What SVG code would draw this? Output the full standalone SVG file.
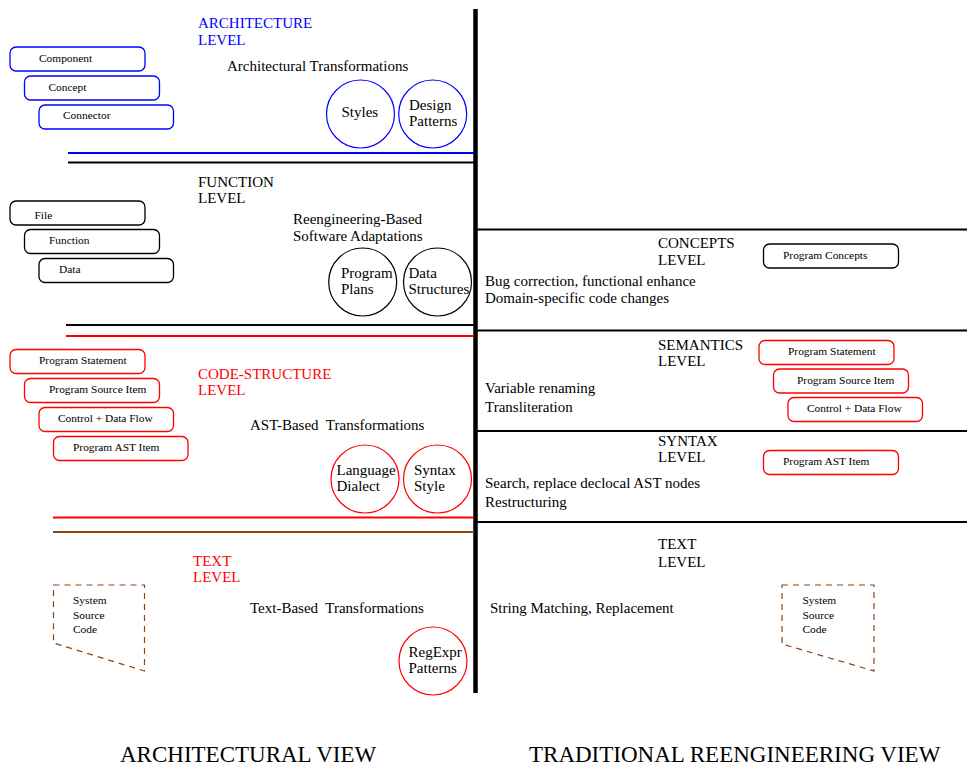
<svg xmlns="http://www.w3.org/2000/svg" width="967" height="766" viewBox="0 0 967 766">
<style>
text{font-family:"Liberation Serif","Times New Roman",serif;fill:#000}
.lvl{font-size:15px}
.desc{font-size:15px}
.pre{white-space:pre}
.ctx{font-size:15px}
.box{font-size:11.4px}
.blue{fill:#0000ff}
.red{fill:#ff0000}
.rb{fill:none;stroke-width:1.3}
.kb{stroke:#000}
.bb{stroke:#0000ff}
.reb{stroke:#ff0000}
.circ{fill:none;stroke-width:1.2}
.dash{fill:none;stroke:#8b4513;stroke-width:1.2;stroke-dasharray:6,5}
.big{font-size:23px}
</style>
<rect width="967" height="766" fill="#fff"/>
<g id="connectors">
<line x1="475.5" y1="9" x2="475.5" y2="693" stroke="#000" stroke-width="4.5"/>
<line x1="68" y1="153" x2="474" y2="153" stroke="#0000ff" stroke-width="2"/>
<line x1="68" y1="162.5" x2="474" y2="162.5" stroke="#000" stroke-width="2"/>
<line x1="66" y1="325" x2="474" y2="325" stroke="#000" stroke-width="2"/>
<line x1="66" y1="336" x2="474" y2="336" stroke="#ff0000" stroke-width="2"/>
<line x1="53" y1="517.5" x2="474" y2="517.5" stroke="#ff0000" stroke-width="2"/>
<line x1="53" y1="532" x2="474" y2="532" stroke="#8b4513" stroke-width="2"/>
<line x1="477" y1="229.5" x2="967" y2="229.5" stroke="#000" stroke-width="2"/>
<line x1="477" y1="330.5" x2="967" y2="330.5" stroke="#000" stroke-width="2"/>
<line x1="477" y1="431" x2="967" y2="431" stroke="#000" stroke-width="2"/>
<line x1="477" y1="522" x2="967" y2="522" stroke="#000" stroke-width="2"/>
</g>
<g id="architecture-level">
<text class="lvl blue" x="198" y="28">ARCHITECTURE</text>
<text class="lvl blue" x="198" y="45">LEVEL</text>
<text class="desc" x="227" y="71">Architectural Transformations</text>
</g>
<g id="component"><rect class="rb bb" x="10" y="47" width="135" height="24" rx="6"/><text class="box" x="39" y="62">Component</text></g>
<g id="concept"><rect class="rb bb" x="24.5" y="76" width="135" height="24" rx="6"/><text class="box" x="48.5" y="91">Concept</text></g>
<g id="connector"><rect class="rb bb" x="39" y="105" width="134.5" height="24" rx="6"/><text class="box" x="63" y="119">Connector</text></g>
<g id="styles"><circle class="circ" cx="360.5" cy="114" r="34" stroke="#0000ff"/><text class="ctx" x="341.5" y="117">Styles</text></g>
<g id="design-patterns"><circle class="circ" cx="432.7" cy="114" r="34" stroke="#0000ff"/><text class="ctx" x="409" y="110">Design</text><text class="ctx" x="409" y="126">Patterns</text></g>

<g id="function-level">
<text class="lvl" x="198" y="187">FUNCTION</text>
<text class="lvl" x="198" y="203">LEVEL</text>
<text class="desc" x="293" y="224">Reengineering-Based</text>
<text class="desc" x="293" y="241">Software Adaptations</text>
</g>
<g id="file"><rect class="rb kb" x="10" y="201" width="135" height="24" rx="6"/><text class="box" x="34.5" y="219">File</text></g>
<g id="function"><rect class="rb kb" x="24.5" y="229.5" width="135" height="24" rx="6"/><text class="box" x="49" y="244">Function</text></g>
<g id="data"><rect class="rb kb" x="39" y="258.5" width="134.5" height="24" rx="6"/><text class="box" x="59" y="273">Data</text></g>
<g id="program-plans"><circle class="circ" cx="362.7" cy="282" r="34" stroke="#000"/><text class="ctx" x="341" y="278">Program</text><text class="ctx" x="341" y="294">Plans</text></g>
<g id="data-structures"><circle class="circ" cx="437.5" cy="282" r="34" stroke="#000"/><text class="ctx" x="408.5" y="278">Data</text><text class="ctx" x="408.5" y="294">Structures</text></g>

<g id="code-structure-level">
<text class="lvl red" x="198" y="379">CODE-STRUCTURE</text>
<text class="lvl red" x="198" y="395">LEVEL</text>
<text class="desc pre" x="250" y="430" xml:space="preserve">AST-Based  Transformations</text>
</g>
<g id="program-statement-l"><rect class="rb reb" x="10" y="349.5" width="135" height="24" rx="6"/><text class="box" x="39" y="364">Program Statement</text></g>
<g id="program-source-item-l"><rect class="rb reb" x="24.5" y="378.5" width="135" height="24" rx="6"/><text class="box" x="49" y="393">Program Source Item</text></g>
<g id="control-data-flow-l"><rect class="rb reb" x="39" y="407.5" width="134.5" height="24" rx="6"/><text class="box" x="58" y="422">Control + Data Flow</text></g>
<g id="program-ast-item-l"><rect class="rb reb" x="53.5" y="436.5" width="134.5" height="24" rx="6"/><text class="box" x="73" y="451">Program AST Item</text></g>
<g id="language-dialect"><circle class="circ" cx="365" cy="479" r="34" stroke="#ff0000"/><text class="ctx" x="336.5" y="475">Language</text><text class="ctx" x="336.5" y="491">Dialect</text></g>
<g id="syntax-style"><circle class="circ" cx="437.5" cy="479" r="34" stroke="#ff0000"/><text class="ctx" x="414" y="475">Syntax</text><text class="ctx" x="414" y="491">Style</text></g>

<g id="text-level-l">
<text class="lvl red" x="193" y="566">TEXT</text>
<text class="lvl red" x="193" y="582">LEVEL</text>
<text class="desc pre" x="250" y="613" xml:space="preserve">Text-Based  Transformations</text>
</g>
<g id="system-source-code-l"><polygon class="dash" points="53.5,585 144.5,585 144.5,671 53.5,643"/><text class="box" x="73" y="604">System</text><text class="box" x="73" y="619">Source</text><text class="box" x="73" y="633">Code</text></g>
<g id="regexpr-patterns"><circle class="circ" cx="433" cy="661" r="34" stroke="#ff0000"/><text class="ctx" x="408.5" y="657">RegExpr</text><text class="ctx" x="408.5" y="673">Patterns</text></g>

<g id="concepts-level">
<text class="lvl" x="658" y="248">CONCEPTS</text>
<text class="lvl" x="658" y="265">LEVEL</text>
<text class="desc" x="485" y="286">Bug correction, functional enhance</text>
<text class="desc" x="485" y="303">Domain-specific code changes</text>
</g>
<g id="program-concepts"><rect class="rb kb" x="763.5" y="244" width="135" height="24" rx="6"/><text class="box" x="783" y="259">Program Concepts</text></g>

<g id="semantics-level">
<text class="lvl" x="658" y="350">SEMANTICS</text>
<text class="lvl" x="658" y="366">LEVEL</text>
<text class="desc" x="485" y="393">Variable renaming</text>
<text class="desc" x="485" y="412">Transliteration</text>
</g>
<g id="program-statement-r"><rect class="rb reb" x="759" y="340.5" width="135" height="24" rx="6"/><text class="box" x="788" y="355">Program Statement</text></g>
<g id="program-source-item-r"><rect class="rb reb" x="773.5" y="369" width="135" height="24" rx="6"/><text class="box" x="797" y="384">Program Source Item</text></g>
<g id="control-data-flow-r"><rect class="rb reb" x="788" y="397.5" width="134.5" height="24" rx="6"/><text class="box" x="807" y="412">Control + Data Flow</text></g>

<g id="syntax-level">
<text class="lvl" x="658" y="446">SYNTAX</text>
<text class="lvl" x="658" y="462">LEVEL</text>
<text class="desc" x="485" y="488">Search, replace declocal AST nodes</text>
<text class="desc" x="485" y="507">Restructuring</text>
</g>
<g id="program-ast-item-r"><rect class="rb reb" x="763.5" y="450.5" width="135" height="24" rx="6"/><text class="box" x="783" y="465">Program AST Item</text></g>

<g id="text-level-r">
<text class="lvl" x="658" y="549">TEXT</text>
<text class="lvl" x="658" y="567">LEVEL</text>
<text class="desc" x="490" y="613">String Matching, Replacement</text>
</g>
<g id="system-source-code-r"><polygon class="dash" points="782,585 874,585 874,671 782,644"/><text class="box" x="802.5" y="604">System</text><text class="box" x="802.5" y="619">Source</text><text class="box" x="802.5" y="633">Code</text></g>

<g id="views">
<text class="big" x="120" y="762">ARCHITECTURAL VIEW</text>
<text class="big" x="529" y="762">TRADITIONAL REENGINEERING VIEW</text>
</g>
</svg>
